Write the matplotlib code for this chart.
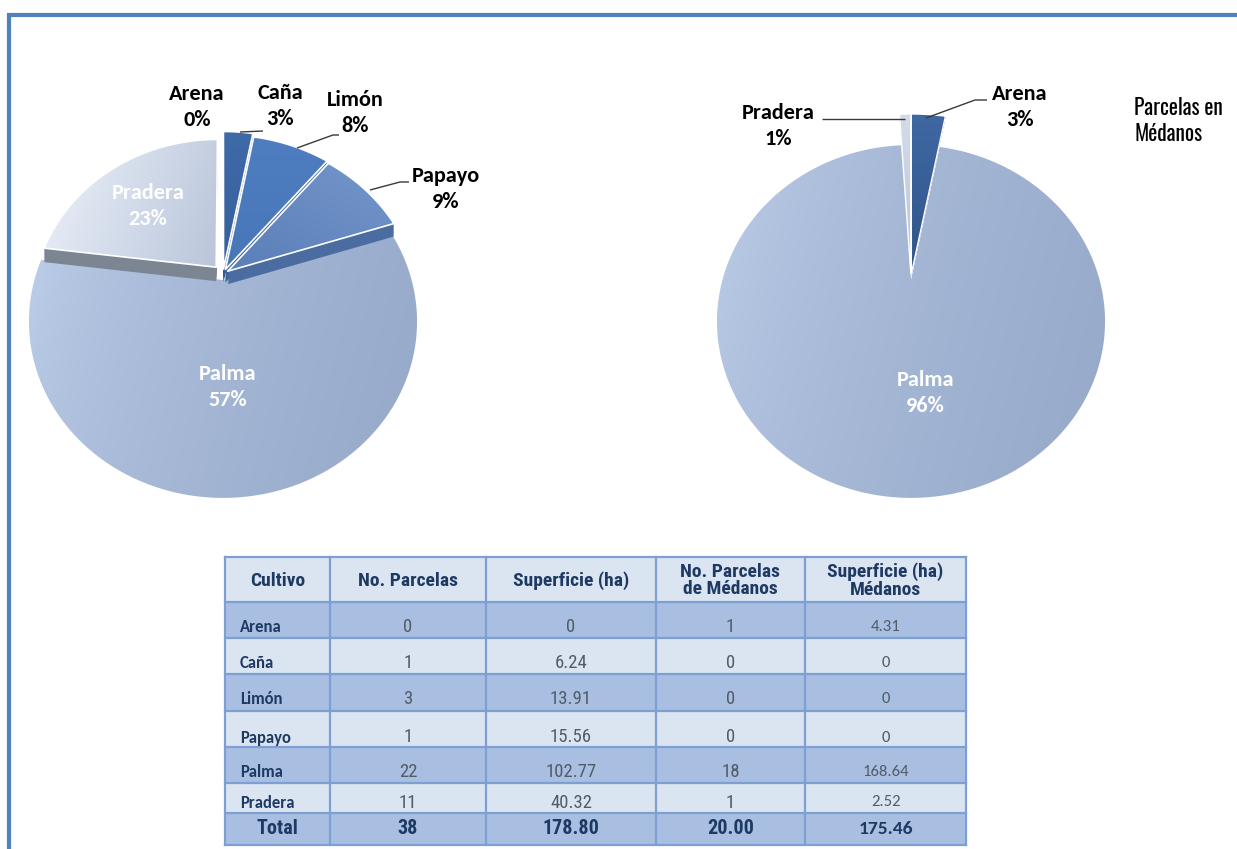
import numpy as np
import matplotlib
matplotlib.use("Agg")
import matplotlib.pyplot as plt
from matplotlib.patches import Polygon, Rectangle
from matplotlib.colors import to_rgb

W, H = 1237, 849

# ---------------- data ----------------
cultivos = ["Arena", "Caña", "Limón", "Papayo", "Palma", "Pradera"]
no_parcelas = [0, 1, 3, 1, 22, 11]
superficie_ha = [0, 6.24, 13.91, 15.56, 102.77, 40.32]
no_parcelas_medanos = [1, 0, 0, 0, 18, 1]
superficie_medanos = [4.31, 0, 0, 0, 168.64, 2.52]
fila_total = ["Total", "38", "178.80", "20.00", "175.46"]
encabezados = ["Cultivo", "No. Parcelas", "Superficie (ha)",
               "No. Parcelas\nde Médanos", "Superficie (ha)\nMédanos"]

# share of area (%) in each pie
pct_total = [0, 3, 8, 9, 57, 23]
cat_medanos = ["Arena", "Palma", "Pradera"]
pct_medanos = [3, 96, 1]
titulo_medanos = "Parcelas en\nMédanos"

# font families
CALIBRI = ["Carlito", "Lato", "DejaVu Sans"]
NARROW = ["Roboto Condensed", "PT Sans Narrow", "Archivo Narrow",
          "IBM Plex Sans Condensed", "Liberation Sans", "DejaVu Sans"]
AGENCY = ["Oswald", "Roboto Condensed", "IBM Plex Sans Condensed", "DejaVu Sans"]

# ---------------- figure ----------------
fig = plt.figure(figsize=(W / 100, H / 100), dpi=100)
ax = fig.add_axes([0, 0, 1, 1])
ax.set_xlim(0, W)
ax.set_ylim(H, 0)
ax.axis("off")

# hidden axes used only to lay out the pie wedges
geo = fig.add_axes([0, 0, 0.01, 0.01])
geo.set_visible(False)

# perspective of the tilted pie plane
S, T, K = 188.6, 166.7, 0.235


def project(u, v, cx, cy):
    d = 1 + K * v
    return cx + S * u / d, cy - T * v / d


def wedge_uv(w, rf, n=240):
    x0, y0 = w.center
    th = np.radians(np.linspace(w.theta1, w.theta2, n))
    u = np.concatenate([[x0], x0 + w.r * rf * np.cos(th)])
    v = np.concatenate([[y0], y0 + w.r * rf * np.sin(th)])
    return u, v


def grad_fill(xy, c0, c1, angle, z, gamma=1.0, edge=None, lw=0.0):
    poly = Polygon(xy, closed=True, fc="none", ec="none", zorder=z)
    ax.add_patch(poly)
    xmin, ymin = xy.min(0)
    xmax, ymax = xy.max(0)
    gx, gy = np.meshgrid(np.linspace(0, 1, 96), np.linspace(0, 1, 96))
    a = np.radians(angle)
    p = gx * (xmax - xmin) * np.cos(a) + gy * (ymax - ymin) * np.sin(a)
    p = (p - p.min()) / (p.max() - p.min())
    p = p ** gamma
    img = (1 - p)[..., None] * np.array(to_rgb(c0)) + p[..., None] * np.array(to_rgb(c1))
    im = ax.imshow(img, extent=(xmin, xmax, ymax, ymin), origin="upper",
                   zorder=z, interpolation="bilinear", aspect="auto")
    im.set_clip_path(poly)
    if edge is not None:
        ax.add_patch(Polygon(xy, closed=True, fc="none", ec=edge, lw=lw,
                             zorder=z + 0.05, joinstyle="round"))


def draw_pie(values, center, styles):
    wedges, _ = geo.pie(values, startangle=90, counterclock=False,
                        explode=[s["explode"] for s in styles])
    faces = []
    for w, st in zip(wedges, styles):
        if w.theta2 - w.theta1 <= 1e-9:
            faces.append(None)
            continue
        u, v = wedge_uv(w, st["r"])
        x, y = project(u, v, *center)
        faces.append(np.column_stack([x, y - st["lift"]]))
    # extruded sides first, then the top faces
    for xy, st in zip(faces, styles):
        if xy is None or not st.get("side"):
            continue
        for d in np.arange(1, st["side"] + 1, 1.0):
            ax.add_patch(Polygon(xy + [0, d], closed=True, fc=st["side_color"],
                                 ec="none", zorder=st["z"] - 0.5))
    for xy, st in zip(faces, styles):
        if xy is None:
            continue
        grad_fill(xy, st["c0"], st["c1"], st["angle"], st["z"], st.get("gamma", 1.0),
                  st.get("edge"), st.get("lw", 0))


palma_style = dict(explode=0, r=1.0, lift=0, z=1, c0="#c3d4ee", c1="#96a9c9",
                   angle=15, gamma=0.5)

left_styles = [
    dict(explode=0.03, r=1.0, lift=6, z=3, c0="#3d68a5", c1="#3d68a5", angle=90),
    dict(explode=0.03, r=1.04, lift=6, z=3, c0="#3f6aa8", c1="#36609b", angle=90,
         edge="white", lw=1.2, side=13, side_color="#35598f"),
    dict(explode=0.03, r=1.01, lift=6, z=3, c0="#4e7ec0", c1="#4877b8", angle=90,
         edge="white", lw=1.2, side=13, side_color="#3e6399"),
    dict(explode=0.03, r=1.0, lift=6, z=3, c0="#7496cb", c1="#5a7eb8", angle=120,
         edge="white", lw=1.2, side=13, side_color="#4b6ca0"),
    palma_style,
    dict(explode=0.055, r=0.955, lift=6, z=3, c0="#edf2fa", c1="#b9c5da", angle=20,
         edge="white", lw=1.2, side=14, side_color="#7c8592"),
]
draw_pie(pct_total, (223, 280), left_styles)

right_styles = [
    dict(explode=0.02, r=1.25, lift=3, z=3, c0="#3f67a2", c1="#2f5589", angle=90,
         edge="white", lw=1.0, side=2, side_color="#2a4a78"),
    palma_style,
    dict(explode=0.02, r=1.25, lift=3, z=3, c0="#d3dcea", c1="#b7c3d7", angle=90,
         edge="white", lw=1.0, side=2, side_color="#5f6875"),
]
draw_pie(pct_medanos, (911, 280), right_styles)

# ---------------- pie labels ----------------
lbl_font = dict(family=CALIBRI, fontweight="bold", fontsize=16,
                ha="center", va="center", linespacing=1.35, zorder=6)
# positions follow the order of `cultivos`
left_pos = [(197, 107), (280, 106), (355, 113), (446, 189), (228, 387), (148, 206)]
left_col = ["black", "black", "black", "black", "white", "white"]
for name, p, pos, c in zip(cultivos, pct_total, left_pos, left_col):
    ax.text(*pos, f"{name}\n{p}%", color=c, **lbl_font)

right_pos = [(1020, 107), (925, 393), (778, 126)]
right_col = ["black", "white", "black"]
for name, p, pos, c in zip(cat_medanos, pct_medanos, right_pos, right_col):
    ax.text(*pos, f"{name}\n{p}%", color=c, **lbl_font)

ax.text(1134, 121, titulo_medanos, family=AGENCY, fontsize=15.5,
        ha="left", va="center", linespacing=1.2, color="black", zorder=6)

# leader lines
leaders = [
    [(240, 132), (263, 131)],
    [(297, 148), (333, 135), (339, 135)],
    [(370, 190), (400, 182), (409, 182)],
    [(905, 119), (822, 119)],
    [(926, 118), (975, 100), (987, 100)],
]
for pts in leaders:
    xs, ys = zip(*pts)
    ax.plot(xs, ys, color="#3a3a3a", lw=1.0, zorder=6, solid_capstyle="butt")

# ---------------- table ----------------
col_x = [225, 330, 486, 656, 805, 966]
row_y = [557, 602, 638, 674, 711, 747, 783, 813, 845]
light = "#dbe5f2"
dark = "#a8bfe1"
row_bg = [light, dark, light, dark, light, dark, light, dark]
grid = "#7d9fd2"
navy = "#1e3a63"
gray = "#525c68"

for i in range(len(row_y) - 1):
    ax.add_patch(Rectangle((col_x[0], row_y[i]), col_x[-1] - col_x[0],
                           row_y[i + 1] - row_y[i], fc=row_bg[i], ec="none", zorder=1))
for yy in row_y:
    ax.plot([col_x[0], col_x[-1]], [yy, yy], color=grid, lw=1.6, zorder=2)
for xx in col_x:
    ax.plot([xx, xx], [row_y[0], row_y[-1]], color=grid, lw=1.6, zorder=2)

# header
for j, h in enumerate(encabezados):
    cx = (col_x[j] + col_x[j + 1]) / 2
    ax.text(cx, (row_y[0] + row_y[1]) / 2 + 1, h, family=NARROW, fontweight="bold",
            fontsize=14, color=navy, ha="center", va="center", linespacing=0.95, zorder=3)

offs = [7, 7, 6.5, 8.5, 7, 4.5]
columnas = [no_parcelas, superficie_ha, no_parcelas_medanos, superficie_medanos]
for i, name in enumerate(cultivos):
    yc = (row_y[i + 1] + row_y[i + 2]) / 2 + offs[i]
    ax.text(240, yc, name, family=CALIBRI, fontweight="bold", fontsize=12,
            color=navy, ha="left", va="center", zorder=3)
    for j, col in enumerate(columnas):
        cx = (col_x[j + 1] + col_x[j + 2]) / 2
        fam = CALIBRI if j == 3 else NARROW
        fs = 12 if j == 3 else 13.5
        ax.text(cx, yc, f"{col[i]:g}", family=fam, fontsize=fs, color=gray,
                ha="center", va="center", zorder=3)

yt = (row_y[-2] + row_y[-1]) / 2
for j, t in enumerate(fila_total):
    cx = (col_x[j] + col_x[j + 1]) / 2
    fam = CALIBRI if j == 4 else NARROW
    fs = 14 if j == 4 else 14.5
    ax.text(cx, yt, t, family=fam, fontweight="bold", fontsize=fs, color=navy,
            ha="center", va="center", zorder=3)

# ---------------- frame ----------------
ax.plot([7, W], [15, 15], color="#4f81bd", lw=3.0, zorder=8, solid_capstyle="butt")
ax.plot([9, 9], [13.5, H], color="#4f81bd", lw=3.0, zorder=8, solid_capstyle="butt")

ax.set_xlim(0, W)
ax.set_ylim(H, 0)
fig.savefig("out.png", dpi=100)
